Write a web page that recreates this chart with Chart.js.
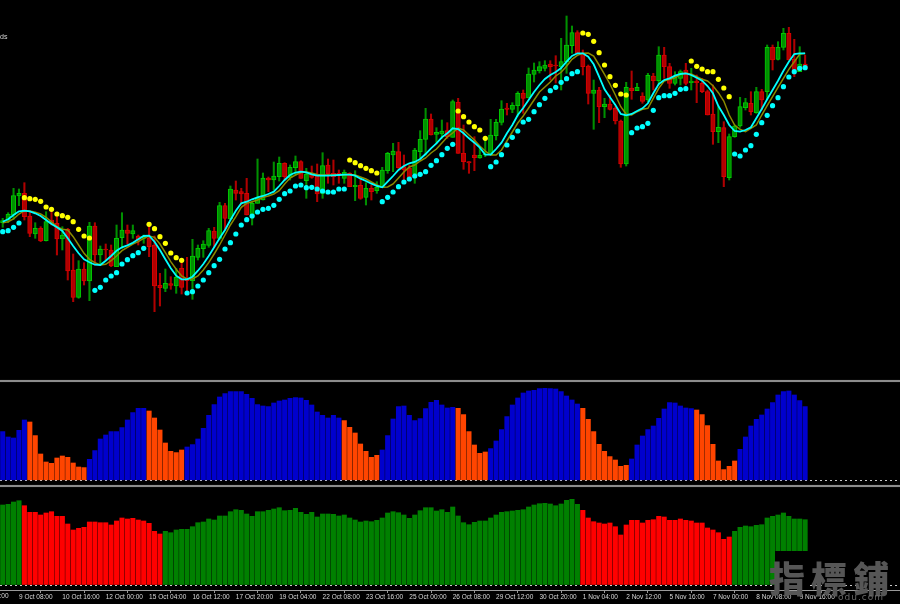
<!DOCTYPE html>
<html lang="en">
<head>
<meta charset="UTF-8">
<title>Chart</title>
<script src="https://cdn.jsdelivr.net/npm/chart.js"></script>
<style>
    html, body { margin: 0; padding: 0; background: #000; width: 900px; height: 604px; overflow: hidden; }
    canvas { position: absolute; left: 0; }
    .sep { position: absolute; left: 0; width: 900px; height: 2px; background: #8c8c8c; box-shadow: 0 0 1px #555; }
    .txt { position: absolute; color: #d8d8d8; font: 6.5px "Liberation Sans", sans-serif; white-space: nowrap; }
    #stamp { position: absolute; left: 775px; top: 551px; width: 33px; height: 36px; background: #000; }
    #mark { position: absolute; left: 769px; top: 553px; color: #565656; font: 900 36px "Noto Sans CJK TC", sans-serif; letter-spacing: 6px; white-space: nowrap; line-height: 48px; }
    #site { position: absolute; left: 838px; top: 592px; color: #6a6a6a; font: 9px "DejaVu Sans", sans-serif; letter-spacing: 1px; white-space: nowrap; }
</style>
</head>
<body>
<canvas id="priceChart" width="900" height="380" style="top:0"></canvas>
<div class="sep" style="top:380px"></div>
<canvas id="osc1Chart" width="900" height="99" style="top:383px"></canvas>
<div class="sep" style="top:485px"></div>
<canvas id="osc2Chart" width="900" height="116" style="top:488px"></canvas>
<div class="txt" style="left:0;top:33px;font-size:7px">ds</div>
<div class="txt" style="left:-25px;top:592px">8 Oct 00:00</div>
<div id="stamp"></div>
<div id="mark">指標鋪</div>
<div id="site">odu.com</div>
<script>
    // every slot on the time axis, the last 17 are the empty shift on the right
    const slotCount = 166;
    const tickLabels = ['9 Oct 08:00', '10 Oct 16:00', '12 Oct 00:00', '15 Oct 04:00', '16 Oct 12:00', '17 Oct 20:00', '19 Oct 04:00', '22 Oct 08:00', '23 Oct 16:00', '25 Oct 00:00', '26 Oct 08:00', '29 Oct 12:00', '30 Oct 20:00', '1 Nov 04:00', '2 Nov 12:00', '5 Nov 16:00', '7 Nov 00:00', '8 Nov 08:00', '9 Nov 16:00'];
    const firstTick = 3;
    const tickStep = 8;

    const candleHigh = [161.7,167.3,191.7,191,197.3,168.3,157.3,153.3,168.3,168.3,
        165,153.3,151.7,126,119.3,117.3,157.7,157.3,134,136,
        135,155,167.3,155,155,145,145,156.7,144,106.7,
        111,103.3,111.7,119.3,122.7,140.7,135,139.3,151.7,152.7,
        177.7,176.7,194,199,191.7,201.7,178.3,221,207,203,
        218,223,217.3,215,224,219.3,211.7,214,216,227.3,
        221,220,210,210,207.3,209.3,201.7,197.3,195,198.3,
        212.7,227.7,236.7,237.7,225,215,231.7,249.3,271.7,266,
        252.3,260,257.3,280,281.7,255,218.3,243.3,231.7,241.7,
        260.7,260.7,279.3,276.7,277.3,288.3,290,312,317,318.3,
        319.3,319.3,324.3,341.7,364,354,349.3,330,315,300,
        292.7,281.7,285,273.3,260,297.7,309,296.7,287.3,306.7,
        306.7,333.3,332.7,316.7,308.3,310,316.7,311.7,305,301.7,
        290,295,273.3,258.3,246,255,282.7,281.7,288.3,292.7,
        290.7,335,335,338.3,351.7,352.7,340.7,333.3,325];
    const candleLow = [152.7,157.3,160.7,174.3,160,143.3,141.7,138.3,139,155,
        125,130,100,78.3,81.7,95,79.3,115,115,120,
        113.3,113.3,131.7,136,141.7,135,136.7,123.3,68.3,74,
        88.3,90.7,86.7,86,86.7,80.7,120,122.7,132.7,132.7,
        140,150,160,180,175,165,155,176.7,180,188.3,
        190,199,200,200,205,201.7,181.7,201.7,178.3,181.7,
        196.7,195,196.7,196.7,193.3,179.3,180.7,175,180,186.7,
        192.7,206.7,208.3,211.7,200,201.7,196.7,221.7,225,245,
        236.7,241.7,241.7,242.7,226.7,210.7,206.7,209.3,221.7,223.3,
        225,240,255,265,267.3,264,266.7,282,298,307,
        309,300,297,290,306.7,326.7,325,305,276,250.7,
        257.3,262.3,270,256,212.7,214,280.7,289.3,276.7,278.3,
        290,295,301.7,291.7,295,295,295,290,277.3,287.3,
        265,235.7,237.3,193.3,200,242.7,252.7,270,265,266.7,
        270,280,310,320,330,320,303.3,308.3,311.7];
    const candleOpen = [157.3,160,165,184,186.7,164,146,151.7,139.3,160,
        156.7,141,150.7,110,82.7,111,99,154,125,131,
        130,113.3,142.3,150,146,144,141.7,141.7,135,94.7,
        91.7,96.3,94,111.7,101.7,99.3,122.7,131.3,134.7,149,
        141.7,174.3,161,190,188.3,186.7,163.3,176.7,180,202,
        200,203.3,216.7,202.7,212.3,218.3,199.3,206.7,205,186.7,
        215,206.7,206.7,201.7,206.7,193.3,194.7,182.7,191.7,189.3,
        192.7,209.3,225,228.3,213.3,211.7,206,228.3,240.7,261,
        245.7,246,249.3,242.7,277.7,226.7,218.3,225,222,225,
        225,244.3,257.7,272,270.7,274.3,286.7,282,305.7,309,
        311.7,316,315,313.3,318.3,334.3,347.3,326.7,314,286.7,
        290,273.3,276,271.7,259,216,292,289.3,284,280,
        304,299.3,325,313.3,296.7,301.7,310,297.3,299,296.7,
        288.3,266,248.3,252.3,202.3,243.3,254,272.3,276.7,267.3,
        288.3,288.3,332.7,320.7,332.7,346.7,320.7,308.3,316];
    const candleClose = [159.3,165.7,184.3,186.7,163.3,146.7,151.7,139,158.3,156.7,
        141,145,109,82.7,111,99,154,125,131,130,
        114,141.7,150,146.7,149.3,140,143.3,133.3,94,92.3,
        96.7,94.7,102.7,92.7,99.3,124,131.7,136,149.3,141.7,
        174.3,161.7,191,186.7,186,165,176.7,181.7,202,200,
        204,216.7,203.3,212.7,218.3,201.7,206,202.7,186,214.3,
        206,203.3,205,207.7,193.3,194.7,181.7,191.7,188.3,192.7,
        210,226.7,229,212.3,210,202.7,230,240.7,261,245,
        247.7,249,243.3,278.3,226.7,218.3,217,222.3,224.7,226,
        245,257.7,271,270.7,274.7,286.7,281.7,306,310,313.3,
        315,313.3,314,318.3,335,347.3,326.7,313.3,286.7,290,
        273.3,276,270.7,259,216,292.7,289.3,292.7,278.7,304.7,
        299.3,325,313.3,296.7,303.3,308.3,296.7,299,297.3,288.3,
        265,248.3,252.7,203.3,243.3,254,273.3,277.3,268.3,288.3,
        280,332.7,320,332.7,346.7,320,310,316,311.7];

    const fastLine = [158.3,160.7,165,168.7,169.3,168.7,166.7,164,160,156,152.7,149,141.7,134,126.7,120.7,117.7,115.3,115,119.3,124,129.3,132.7,134.7,137.3,140.7,144,144.3,138.3,130,120.7,111.7,104.3,100.7,100.7,103.3,109.3,116,124,132.7,141.7,150,160,169.3,176.7,178.3,180.7,182.7,184,186,188.3,194,200,205,207.5,208.3,207.7,205.7,204.3,204.3,204.3,204.7,205,205.3,205.3,204.3,201.3,199,196.3,194,192.7,198.3,204,210,214,216.7,218,221,226,231.7,236.7,242.7,246.7,251.7,251,246.7,241.7,237.3,232.3,225.3,225.3,231,237.3,246.7,255,265,272,280,288,295,301,305,308,312,318.3,324,326.7,326.7,323.3,315.7,303.3,290.7,282.7,275,266,264.7,266,269,271.7,276.7,286.7,296,300,301.7,304.3,306,306.7,305,302.3,299.3,294,286.7,274,265,255,249,248.3,250,252.7,261.7,271,280.7,290,299.3,309.3,318.3,326,326.7,326.7];
    const slowLine = [157.3,158.3,161,166,169.3,169,167.7,166,162.7,158.3,153.3,150.7,150,143.3,135,126.7,120.7,117.3,115,115.7,119.3,124,129.3,132.7,136,138.3,141.7,144,142.7,136,127.3,118.3,110.7,104,101,101,104,110,117.3,126,135,145,155,163.3,172.7,176.7,178.3,180,182.7,184,186,189.3,196,202,205,207.5,208,207,205.5,205,205,205,205,205,205.5,205,203,201,198,195,192.7,193,196,202,208,213,215,219,222,227,231,237,243,247,252,250,245,240,234,229,225,225,230,239,248,257,264,272,280,288,293,298,304,307.7,313.7,320.7,324.7,326.7,327,324,315,305.7,296,285,273.3,265.7,265,268.3,270.7,271.7,281.7,291.7,299,300.7,302.3,305.7,306.7,306,303.3,300.7,299,294.3,287.3,279,265,255,250.7,248.3,251.7,255,265,274.3,283.3,292.7,301.7,310.7,318.3,325.7,326.7];

    const dotsBelow = [148.3,149.3,152.7,157,null,null,null,null,null,null,null,null,null,null,null,null,null,89.7,92.7,100,104,107.3,116,120.3,124.3,127.3,131.7,null,null,null,null,null,null,null,87,88.3,94,100,107.3,114.3,120.7,131,137.3,146,155,160.3,164,168,170.7,171.7,174.7,180.7,186.3,189,194,195,192.3,192.7,191,189,188,188,191,191,null,null,null,null,null,null,178.3,182.7,188,193.3,198,201,204,205.7,208.3,214.7,219.3,225.3,231.7,235.7,null,null,null,null,null,null,213.3,218,225.3,235,242.7,249,258,260.7,268.3,275.3,281.7,289.3,292.7,297.7,301.3,306.3,308.3,null,null,null,null,null,null,null,null,null,247.3,252,253.3,256.7,269.7,282.3,284.3,284.3,286.7,290.7,291.3,null,null,null,null,null,null,null,null,226,224,230,234.3,245.7,257.3,264.7,274.3,282.3,293.3,303,308.3,311.7,312.3];
    const dotsAbove = [null,null,null,null,182.3,181.3,180.7,178.7,173,170.7,166,164.3,162.7,158.3,150.7,144,142,null,null,null,null,null,null,null,null,null,null,155.7,151.3,143.3,136.7,127,122.3,119.7,null,null,null,null,null,null,null,null,null,null,null,null,null,null,null,null,null,null,null,null,null,null,null,null,null,null,null,null,null,null,220,217.3,214.3,211.7,209.3,207,null,null,null,null,null,null,null,null,null,null,null,null,null,null,269,263.3,258,253.3,250,241.7,null,null,null,null,null,null,null,null,null,null,null,null,null,null,null,null,null,347,345.7,338.7,327.3,315,303.3,294.7,286,285,null,null,null,null,null,null,null,null,null,null,null,319,313.7,311,308.3,308.3,300.7,292,283.3,null,null,null,null,null,null,null,null,null,null,null,null,null,null];

    const osc1Values = [48.7,43.3,42.3,50,60.3,58.3,44.7,26.3,18.3,17,22.3,24.3,23,17.3,13.3,12.7,21,29.7,41.3,45.3,48.7,48.7,52.7,60.3,67.7,72,72,69.3,62.3,50.3,37.3,29,27.7,30.3,33.3,35.7,41.3,52,65,75.7,83.3,86.7,88.7,88.7,88.7,86,82,75.7,74.3,73.7,77.3,79.3,80.3,82,82.7,82.3,80,75.3,68.3,65,62.3,65,62.3,59.7,53,47.3,36.3,29,23,25,30.3,44.7,61.3,73.7,74.3,65,59.7,61.7,71.7,78,80,75.3,72.3,73,72,65.7,48.7,35.3,27,28.3,31.7,39.3,50.7,63.7,75.3,82.3,87.3,89.3,90,91.7,92,91.7,91.3,88.7,84.3,80.3,76.3,72,61,48.7,36,29,23.7,20.3,14,15,21.3,35.3,44.3,50.7,54.3,62,71.3,77.7,77.3,74.3,72.3,71.7,70.3,65.7,54.7,36,19.3,10.7,14,19.3,31,43.3,54.3,61,65.3,71.3,77.7,85.3,88.7,89.3,85.3,79.7,73.7];
    const osc1FallingRuns = [[5, 15], [27, 33], [63, 69], [84, 89], [107, 115], [128, 135]];
    const osc2Values = [80,80.7,83,84.3,79.3,72.7,72.7,70,72,73.3,68.7,68.7,61,55,56.7,57.7,63,63,62.3,62.3,60,64,67,66,66.7,65,64,61.7,53.7,51,53.7,52.3,55,55.7,55.7,58.3,62.3,63,66,65,69,69,73.3,75.3,74.7,71,68.7,73.3,73.3,74.7,76,77.3,74.3,74.7,76.7,72.7,70.7,72.7,68,71,71,70.7,69,70,67,65,63,64,63.3,64.7,67,72,73.3,72.3,70,66.7,70,74.3,77.3,77.3,74,75.3,72.7,78,69,62.3,60.3,62.7,64,64,67,70,72.7,73.3,74,74.7,75.3,78,80,81.3,81.7,81,79.3,81,84.7,85.7,80.7,74.7,67,63.3,62,61,62,58.3,50,60,64.7,64.7,62,64.7,65.3,68.7,68,64.7,64.7,66,64.7,64,62,62,57,55,52.3,45.7,48,53.7,57.7,59,58.3,59.7,60.3,67,68.7,70,72,68.7,66,66,65.3];
    const osc2RedRuns = [[4, 29], [107, 134]];

    const slotLabels = [];
    for (let i = 0; i < slotCount; i++) {
        slotLabels.push(i >= firstTick && (i - firstTick) % tickStep === 0 ? tickLabels[(i - firstTick) / tickStep] : '');
    }

    function inRuns(runs, i) {
        return runs.some(r => i >= r[0] && i <= r[1]);
    }

    function hiddenY(min, max) {
        return { display: false, min: min, max: max };
    }

    // y axis that only draws the dotted zero line of a sub window
    function zeroLineY(min, max) {
        return {
            min: min,
            max: max,
            afterBuildTicks: axis => { axis.ticks = [{ value: 0 }]; },
            afterFit: axis => { axis.width = 0; },
            ticks: { display: false },
            grid: { color: '#c8c8c8', drawTicks: false, lineWidth: 1 },
            border: { display: false, dash: [2, 3] }
        };
    }

    const baseOptions = {
        responsive: false,
        animation: false,
        events: [],
        layout: { padding: 0, autoPadding: false },
        plugins: { legend: { display: false }, tooltip: { enabled: false } }
    };

    const upBody = '#009000', upEdge = '#00c800', downBody = '#b00000', downEdge = '#d80000';
    const isUp = candleClose.map((c, i) => c >= candleOpen[i]);

    new Chart(document.getElementById('priceChart'), {
        data: {
            labels: slotLabels,
            // the first dataset ends up on top
            datasets: [
                { type: 'line', data: dotsAbove, showLine: false, pointRadius: 2.6, pointBackgroundColor: '#ffff00', pointBorderWidth: 0 },
                { type: 'line', data: dotsBelow, showLine: false, pointRadius: 2.6, pointBackgroundColor: '#00ffff', pointBorderWidth: 0 },
                { type: 'line', data: fastLine, borderColor: '#00ffff', borderWidth: 1.8, pointRadius: 0, tension: 0 },
                { type: 'line', data: slowLine, borderColor: '#8a8a00', borderWidth: 1.5, pointRadius: 0, tension: 0 },
                {
                    type: 'bar',
                    data: candleOpen.map((o, i) => [o, candleClose[i]]),
                    backgroundColor: isUp.map(u => u ? upBody : downBody),
                    borderColor: isUp.map(u => u ? upEdge : downEdge),
                    borderWidth: 1,
                    borderSkipped: false,
                    barThickness: 4.4,
                    grouped: false
                },
                {
                    type: 'bar',
                    data: candleLow.map((l, i) => [l, candleHigh[i]]),
                    backgroundColor: isUp.map(u => u ? upBody : downBody),
                    barThickness: 1.4,
                    grouped: false
                }
            ]
        },
        options: Object.assign({}, baseOptions, {
            scales: {
                x: { display: false },
                y: hiddenY(0, 380)
            }
        })
    });

    new Chart(document.getElementById('osc1Chart'), {
        type: 'bar',
        data: {
            labels: slotLabels,
            datasets: [{
                data: osc1Values,
                backgroundColor: osc1Values.map((v, i) => inRuns(osc1FallingRuns, i) ? '#ff4500' : '#0000cd'),
                barThickness: 4.4
            }]
        },
        options: Object.assign({}, baseOptions, {
            scales: {
                x: { display: false },
                y: zeroLineY(-1.7, 97.3)
            }
        })
    });

    new Chart(document.getElementById('osc2Chart'), {
        type: 'bar',
        data: {
            labels: slotLabels,
            datasets: [{
                data: osc2Values,
                backgroundColor: osc2Values.map((v, i) => inRuns(osc2RedRuns, i) ? '#ff0000' : '#008000'),
                barThickness: 4.4
            }]
        },
        options: Object.assign({}, baseOptions, {
            scales: {
                x: {
                    afterBuildTicks: axis => { axis.ticks = axis.ticks.filter(t => slotLabels[t.value] !== ''); },
                    afterFit: axis => { axis.height = 14; },
                    ticks: { autoSkip: false, maxRotation: 0, align: 'start', padding: 0, color: '#d8d8d8', font: { family: 'Liberation Sans', size: 6.5 } },
                    grid: { drawOnChartArea: false, color: '#9a9a9a', tickLength: 3 },
                    border: { color: '#9a9a9a', width: 1 }
                },
                y: zeroLineY(-5, 97)
            }
        })
    });
</script>
</body>
</html>
